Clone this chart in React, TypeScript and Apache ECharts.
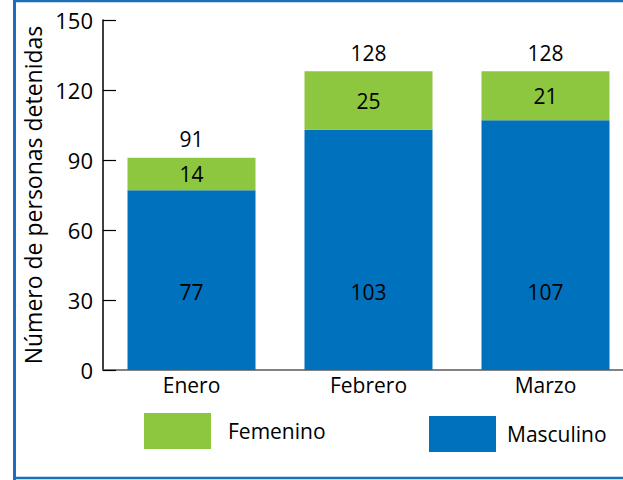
import React, { useEffect, useRef } from "react";
import * as echarts from "echarts";

const categories = ["Enero", "Febrero", "Marzo"];
const masculino = [77, 103, 107];
const femenino = [14, 25, 21];
const totals = [91, 128, 128];
const yMin = 0;
const yMax = 150;
const yInterval = 30;

const BLUE = "#0071bc";
const GREEN = "#8dc63f";
const FONT = "Open Sans";

export default function App() {
  const ref = useRef<HTMLDivElement>(null);
  useEffect(() => {
    if (!ref.current) return;
    const chart = echarts.init(ref.current, null, { renderer: "svg" });
    chart.setOption({
      animation: false,
      textStyle: { fontFamily: FONT },
      grid: {
        left: 103,
        width: 531,
        top: 20,
        bottom: 110,
        containLabel: false,
        outerBoundsMode: "none",
      },
      xAxis: {
        type: "category",
        data: categories,
        axisLine: { lineStyle: { color: "#58595b", width: 1.5 } },
        axisTick: { inside: true, length: 8, lineStyle: { color: "#000", width: 1.5 } },
        axisLabel: { color: "#000", fontSize: 21, margin: 4, fontFamily: FONT },
      },
      yAxis: {
        type: "value",
        min: yMin,
        max: yMax,
        interval: yInterval,
        name: "Número de personas detenidas",
        nameLocation: "middle",
        nameGap: 56,
        nameTextStyle: { color: "#000", fontSize: 23, fontFamily: FONT },
        axisLine: { show: true, lineStyle: { color: "#000", width: 1.5 } },
        axisTick: { show: true, inside: true, length: 13, lineStyle: { color: "#000", width: 1.2 } },
        splitLine: { show: false },
        axisLabel: { color: "#000", fontSize: 22, margin: 10, fontFamily: FONT },
      },
      legend: [
        {
          data: ["Femenino"],
          left: 144,
          top: 413,
          padding: 0,
          itemWidth: 67,
          itemHeight: 36,
          icon: "rect",
          textStyle: { color: "#000", fontSize: 21, fontFamily: FONT, padding: [0, 0, 0, 12] },
          selectedMode: false,
        },
        {
          data: ["Masculino"],
          left: 429,
          top: 416,
          padding: 0,
          itemWidth: 67,
          itemHeight: 36,
          icon: "rect",
          textStyle: { color: "#000", fontSize: 21, fontFamily: FONT, padding: [0, 0, 0, 6] },
          selectedMode: false,
        },
      ],
      series: [
        {
          name: "Masculino",
          type: "bar",
          stack: "total",
          barWidth: 128,
          data: masculino,
          itemStyle: { color: BLUE },
          label: {
            show: true,
            position: "insideBottom",
            distance: 68,
            color: "#000",
            fontSize: 21,
            fontFamily: FONT,
          },
        },
        {
          name: "Femenino",
          type: "bar",
          stack: "total",
          barWidth: 128,
          data: femenino,
          itemStyle: { color: GREEN },
          label: { show: true, position: "inside", color: "#000", fontSize: 21, fontFamily: FONT },
        },
        {
          name: "Total",
          type: "bar",
          stack: "total",
          barWidth: 128,
          data: categories.map(() => 0),
          itemStyle: { color: "transparent" },
          label: {
            show: true,
            position: "top",
            distance: 8,
            color: "#000",
            fontSize: 21,
            fontFamily: FONT,
            formatter: (p: any) => String(totals[p.dataIndex]),
          },
        },
      ],
      graphic: [
        { type: "line", shape: { x1: 14.5, y1: 0, x2: 14.5, y2: 480 }, style: { stroke: "#1b6fb8", lineWidth: 3 } },
        { type: "line", shape: { x1: 13, y1: 1, x2: 623, y2: 1 }, style: { stroke: "#1b6fb8", lineWidth: 2.5 } },
        { type: "line", shape: { x1: 13, y1: 478, x2: 623, y2: 478 }, style: { stroke: "#1b6fb8", lineWidth: 2.5 } },
      ],
    });
    return () => chart.dispose();
  }, []);
  return (
    <div
      ref={ref}
      style={{ position: "fixed", left: 0, top: 0, width: 623, height: 480, background: "#fff" }}
    />
  );
}
